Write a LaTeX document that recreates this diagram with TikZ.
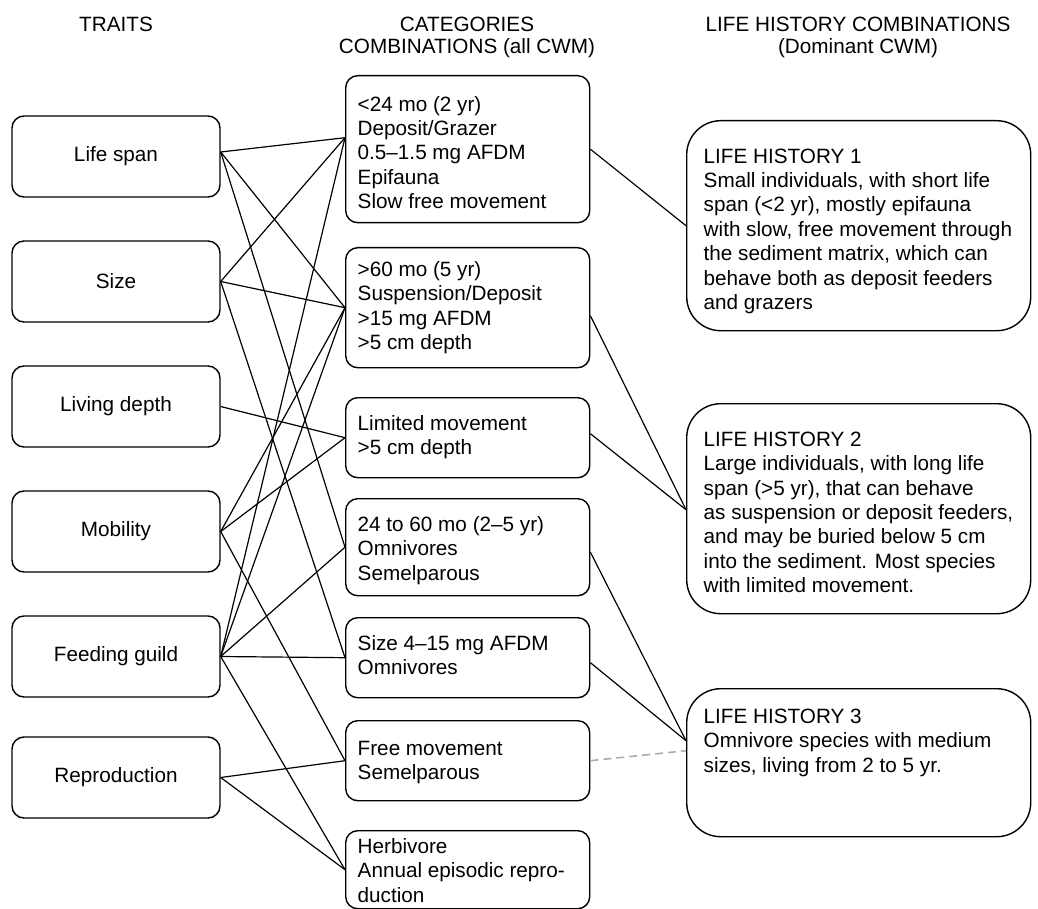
\documentclass[tikz,border=0pt]{standalone}
\usepackage{fontspec}
\setmainfont{Liberation Sans}
\usetikzlibrary{calc}
\begin{document}
\begin{tikzpicture}[x=1pt,y=-1pt,
  font=\fontsize{20.7}{24.4}\selectfont,
  trait/.style={draw, line width=1.4pt, rounded corners=12pt, minimum width=208pt, minimum height=81pt, inner sep=0pt},
  cat/.style 2 args={draw, line width=1.4pt, rounded corners=12pt, anchor=north west, inner xsep=0pt, inner ysep=0pt, text height=#1, text depth=#2},
  lh/.style 2 args={draw, line width=1.4pt, rounded corners=34pt, anchor=north west, inner xsep=0pt, inner ysep=0pt, text height=#1, text depth=#2},
  link/.style={line width=1.2pt},
  dlink/.style={line width=1.6pt, draw=gray!65, dash pattern=on 8pt off 5pt},
  title/.style={align=center, inner sep=0pt}
]
\newcommand{\catt}[1]{\makebox[244pt][l]{\hspace*{12pt}\begin{tabular}[t]{@{}l@{}}#1\end{tabular}}}
\newcommand{\lht}[1]{\makebox[344pt][l]{\hspace*{17pt}\begin{tabular}[t]{@{}l@{}}#1\end{tabular}}}
\useasboundingbox (0,0) rectangle (1038,909);

% titles
\node[title] (t1) at (116,24) {TRAITS};
\node[title] (t2) at (467,24) {CATEGORIES};
\node[title] (t2b) at (467,48) {COMBINATIONS (all CWM)};
\node[title] (t3) at (858,24) {LIFE HISTORY COMBINATIONS};
\node[title] (t3b) at (858,48) {(Dominant CWM)};

% traits
\node[trait] (ls) at (116,156.5) {Life span};
\node[trait] (sz) at (116,281.5) {Size};
\node[trait] (ld) at (116,406.5) {Living depth};
\node[trait] (mo) at (116,531.5) {Mobility};
\node[trait] (fg) at (116,656.5) {Feeding guild};
\node[trait] (re) at (116,777.5) {Reproduction};

% categories
\node[cat={35.5pt}{111.5pt}] (c1) at (345,75) {\catt{<24 mo (2 yr)\\Deposit/Grazer\\0.5--1.5 mg AFDM\\Epifauna\\Slow free movement}};
\node[cat={28.5pt}{91.5pt}] (c2) at (345,247) {\catt{>60 mo (5 yr)\\Suspension/Deposit\\>15 mg AFDM\\>5 cm depth}};
\node[cat={32.5pt}{47.5pt}] (c3) at (345,397) {\catt{Limited movement\\>5 cm depth}};
\node[cat={32.5pt}{64.5pt}] (c4) at (345,498) {\catt{24 to 60 mo (2--5 yr)\\Omnivores\\Semelparous}};
\node[cat={32.5pt}{47.5pt}] (c5) at (345,617) {\catt{Size 4--15 mg AFDM\\Omnivores}};
\node[cat={34.5pt}{45.5pt}] (c6) at (345,720) {\catt{Free movement\\Semelparous}};
\node[cat={22.5pt}{55.5pt}] (c7) at (345,830) {\catt{Herbivore\\Annual episodic repro-\\duction}};

% life histories
\node[lh={42.5pt}{167.5pt}] (h1) at (686,120) {\lht{LIFE HISTORY 1\\Small individuals, with short life\\span (<2 yr), mostly epifauna\\with slow, free movement through\\the sediment matrix, which can\\behave both as deposit feeders\\and grazers}};
\node[lh={42.5pt}{167.5pt}] (h2) at (686,403) {\lht{LIFE HISTORY 2\\Large individuals, with long life\\span (>5 yr), that can behave\\as suspension or deposit feeders,\\and may be buried below 5 cm\\into the sediment. Most species\\with limited movement.}};
\node[lh={34.5pt}{113.5pt}] (h3) at (686,688) {\lht{LIFE HISTORY 3\\Omnivore species with medium\\sizes, living from 2 to 5 yr.}};

% trait -> category links
\coordinate (lsE) at ([yshift=4.5pt]ls.east);
\coordinate (c1W) at ([yshift=11.5pt]c1.west);
\draw[link] (lsE) -- (c1W);
\draw[link] (lsE) -- (c2.west);
\draw[link] (lsE) -- (c4.west);
\draw[link] (sz.east) -- (c1W);
\draw[link] (sz.east) -- (c2.west);
\draw[link] (sz.east) -- (c5.west);
\draw[link] (ld.east) -- (c3.west);
\draw[link] (mo.east) -- (c3.west);
\draw[link] (mo.east) -- (c2.west);
\draw[link] (mo.east) -- (c6.west);
\draw[link] (fg.east) -- (c1W);
\draw[link] (fg.east) -- (c2.west);
\draw[link] (fg.east) -- (c4.west);
\draw[link] (fg.east) -- (c5.west);
\draw[link] (fg.east) -- (c7.west);
\draw[link] (re.east) -- (c6.west);
\draw[link] (re.east) -- (c7.west);

% category -> life history links
\draw[link] (c1.east) -- (h1.west);
\draw[link] ([yshift=-8pt]c2.east) -- ([yshift=-1pt]h2.west);
\draw[link] ([yshift=4pt]c3.east) -- ([yshift=-1pt]h2.west);
\coordinate (h3W) at ([yshift=22pt]h3.west);
\draw[link] ([yshift=-5pt]c4.east) -- (h3W);
\draw[link] ([yshift=-5pt]c5.east) -- (h3W);
\draw[dlink] (c6.east) -- ([yshift=12pt]h3.west);
\end{tikzpicture}
\end{document}
